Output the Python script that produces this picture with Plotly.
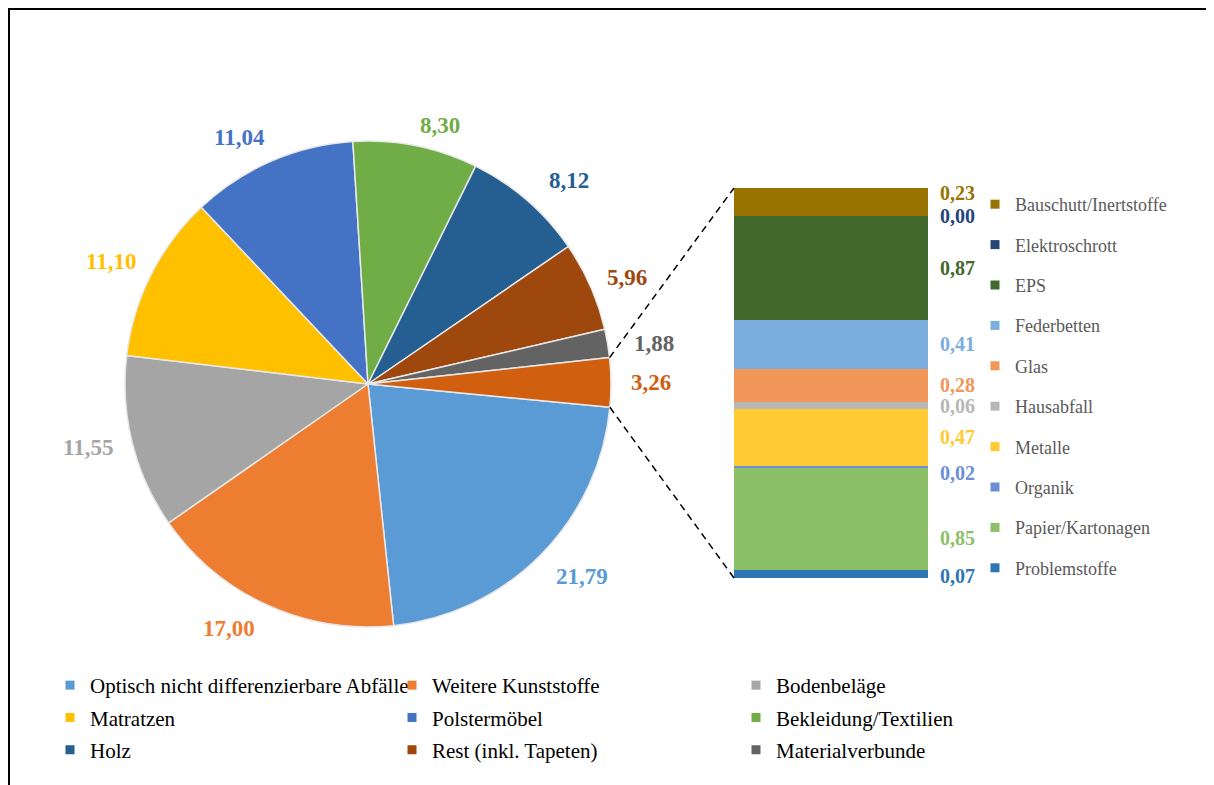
import math
import plotly.graph_objects as go

# page body has an 8px margin: figure is placed at (8, 8) in the window
OFF = 8
W, H = 1206, 777

# ---------------- data ----------------
pie_labels = ["Optisch nicht differenzierbare Abfälle", "Weitere Kunststoffe", "Bodenbeläge",
              "Matratzen", "Polstermöbel", "Bekleidung/Textilien", "Holz",
              "Rest (inkl. Tapeten)", "Materialverbunde", "Sonstige"]
pie_values = [21.79, 17.00, 11.55, 11.10, 11.04, 8.30, 8.12, 5.96, 1.88, 3.26]
pie_colors = ["#5B9BD5", "#ED7D31", "#A5A5A5", "#FFC000", "#4472C4", "#70AD47",
              "#255E91", "#9E480E", "#636363", "#D0600F"]

bar_labels = ["Problemstoffe", "Papier/Kartonagen", "Organik", "Metalle", "Hausabfall",
              "Glas", "Federbetten", "EPS", "Elektroschrott", "Bauschutt/Inertstoffe"]
bar_values = [0.07, 0.85, 0.02, 0.47, 0.06, 0.28, 0.41, 0.87, 0.00, 0.23]
bar_colors = ["#2E75B6", "#8CC068", "#6A8FD5", "#FFCA33", "#B7B7B7", "#F1975A",
              "#7BAEDE", "#43682B", "#264478", "#997300"]

# ---------------- layout geometry (window pixels) ----------------
pie_cx, pie_cy, pie_r = 368, 384, 243
bar_x0, bar_x1, bar_top, bar_bot = 734, 928, 188, 578
rotation = 95.5
bar_label_shift = {"Bauschutt/Inertstoffe": 9, "Organik": -6, "Papier/Kartonagen": -19, "Problemstoffe": -2}
# horizontal nudges of individual pie labels (manual label placement in the original)
pie_label_dx = {"Optisch nicht differenzierbare Abfälle": 12, "Weitere Kunststoffe": -24,
                "Polstermöbel": -19, "Bekleidung/Textilien": 19, "Holz": 18, "Materialverbunde": 7}
PIE_FONT = 23
LABEL_GAP = 20
VERT_PULL = 7


def px(x):
    return (x - OFF) / W


def py(y):
    return 1 - (y - OFF) / H


FONT = "Liberation Serif, Times New Roman, serif"

fig = go.Figure()

fig.add_trace(go.Pie(
    labels=pie_labels, values=pie_values, sort=False, direction="clockwise",
    rotation=rotation, textinfo="none",
    marker=dict(colors=pie_colors, line=dict(color="#E8E8E8", width=1.5)),
    domain=dict(x=[px(pie_cx - pie_r), px(pie_cx + pie_r)], y=[py(pie_cy + pie_r), py(pie_cy - pie_r)]),
    showlegend=False, hoverinfo="label+value",
))

# pie value labels, placed outside each slice at its mid-angle
tot = sum(pie_values)
acc = 0.0
for lab, val, col in zip(pie_labels, pie_values, pie_colors):
    mid = math.radians(rotation + 360 * (acc + val / 2) / tot)
    acc += val
    txt = f"{val:.2f}".replace(".", ",")
    half_w = (len(txt) - 1) * 0.5 * PIE_FONT / 2 + 0.25 * PIE_FONT / 2
    half_h = 0.15 * PIE_FONT
    s, c = math.sin(mid), math.cos(mid)
    dist = pie_r + LABEL_GAP + abs(s) * half_w + abs(c) * half_h
    lx = pie_cx + dist * s + pie_label_dx.get(lab, 0)
    ly = pie_cy - dist * c + VERT_PULL * math.tanh(10 * c)
    fig.add_annotation(x=px(lx), y=py(ly), xref="paper", yref="paper", text=txt, showarrow=False,
                       xanchor="center", yanchor="middle",
                       font=dict(family=FONT, size=PIE_FONT, color=col, weight="bold"))

total_bar = sum(bar_values)
for lab, val, col in zip(bar_labels, bar_values, bar_colors):
    fig.add_trace(go.Bar(x=[0], y=[val], name=lab, marker=dict(color=col, line=dict(width=0)),
                         width=1, showlegend=False, xaxis="x", yaxis="y"))

# bar labels
cum = 0
for lab, val, col in zip(bar_labels, bar_values, bar_colors):
    fig.add_annotation(x=0.5, y=cum + val / 2, xref="x", yref="y", xanchor="left",
                       text=f"{val:.2f}".replace(".", ","), showarrow=False, xshift=10,
                       yshift=bar_label_shift.get(lab, 0),
                       font=dict(family=FONT, size=20, color=col, weight="bold"))
    cum += val

# legend entries (markers only)
leg_names = ["legend", "legend2", "legend3"]
for i, (lab, col) in enumerate(zip(pie_labels[:-1], pie_colors[:-1])):
    fig.add_trace(go.Scatter(x=[None], y=[None], mode="markers", name=lab,
                             marker=dict(symbol="square", size=9, color=col),
                             legend=leg_names[i % 3], legendgroup=f"p{i}", xaxis="x", yaxis="y"))
for i in reversed(range(len(bar_labels))):
    fig.add_trace(go.Scatter(x=[None], y=[None], mode="markers", name=bar_labels[i],
                             marker=dict(symbol="square", size=9, color=bar_colors[i]),
                             legend="legend4", legendgroup=f"b{i}", xaxis="x", yaxis="y"))

# connector lines computed from the pie geometry and bar extents
other_frac = pie_values[-1] / tot
a_top = math.radians(rotation - 360 * other_frac)
a_bot = math.radians(rotation)
p_top = (pie_cx + pie_r * math.sin(a_top), pie_cy - pie_r * math.cos(a_top))
p_bot = (pie_cx + pie_r * math.sin(a_bot), pie_cy - pie_r * math.cos(a_bot))
for (x0, y0), (x1, y1) in [(p_top, (bar_x0, bar_top)), (p_bot, (bar_x0, bar_bot))]:
    fig.add_shape(type="line", xref="paper", yref="paper", x0=px(x0), y0=py(y0), x1=px(x1), y1=py(y1),
                  line=dict(color="black", width=1.5, dash="7px,5px"))

# frame
fig.add_shape(type="rect", xref="paper", yref="paper", x0=px(9), y0=py(9), x1=px(1240), y1=py(820),
              line=dict(color="black", width=2), layer="below")

leg_common = dict(xanchor="left", yanchor="top", orientation="v", traceorder="grouped",
                  bgcolor="rgba(0,0,0,0)", itemclick=False, itemdoubleclick=False)
bottom_font = dict(family=FONT, size=21, color="black")
fig.update_layout(
    width=W, height=H, margin=dict(l=0, r=0, t=0, b=0),
    paper_bgcolor="white", plot_bgcolor="white",
    separators=",.",
    barmode="stack", bargap=0,
    xaxis=dict(domain=[px(bar_x0), px(bar_x1)], range=[-0.5, 0.5], visible=False, fixedrange=True),
    yaxis=dict(domain=[py(bar_bot), py(bar_top)], range=[0, total_bar], visible=False, fixedrange=True),
    legend=dict(x=px(50), y=py(665), font=bottom_font, tracegroupgap=2, **leg_common),
    legend2=dict(x=px(392), y=py(665), font=bottom_font, tracegroupgap=2, **leg_common),
    legend3=dict(x=px(736), y=py(665), font=bottom_font, tracegroupgap=2, **leg_common),
    legend4=dict(x=px(975), y=py(186), font=dict(family=FONT, size=18, color="#595959"),
                 tracegroupgap=14, **leg_common),
)

fig.write_html("out.html")
